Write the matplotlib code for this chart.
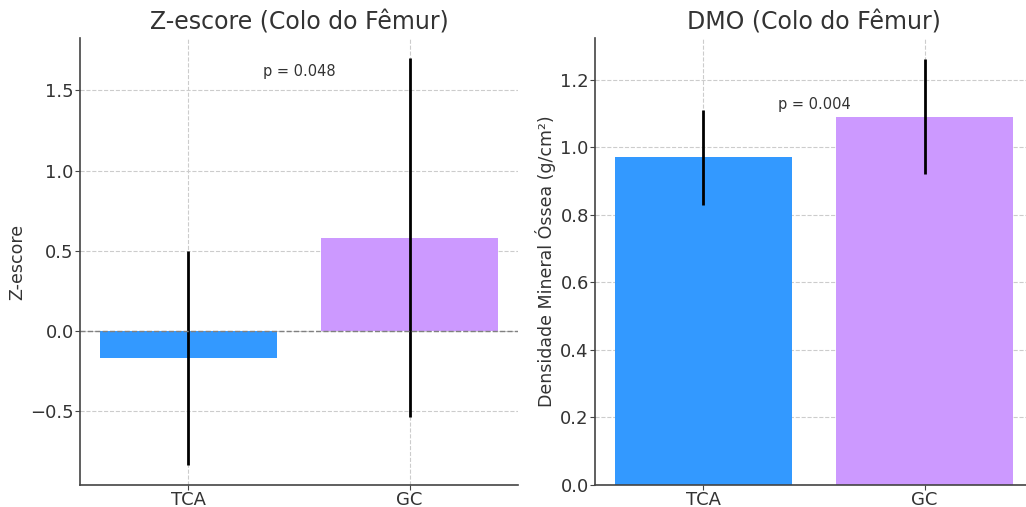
import numpy as np
import matplotlib
matplotlib.use("Agg")
import matplotlib.pyplot as plt

grupos = ["TCA", "GC"]
zscore = [-0.17, 0.58]
zscore_err = [0.665, 1.12]
dmo = [0.97, 1.09]
dmo_err = [0.14, 0.17]
p_z = "p = 0.048"
p_dmo = "p = 0.004"

cores = ["#3399ff", "#cc99ff"]

plt.rcParams["font.family"] = "DejaVu Sans"
plt.rcParams["text.color"] = "#333333"
plt.rcParams["axes.labelcolor"] = "#333333"
plt.rcParams["xtick.color"] = "#333333"
plt.rcParams["ytick.color"] = "#333333"

W, H = 1026, 507
fig = plt.figure(figsize=(W / 100, H / 100), dpi=100)


def eixo(left, top, right, bottom):
    return fig.add_axes([left / W, 1 - bottom / H, (right - left) / W, (bottom - top) / H])


ax1 = eixo(80, 38, 518, 485)
ax2 = eixo(595, 38, 1033, 485)


def estilo(ax):
    for s in ["top", "right"]:
        ax.spines[s].set_visible(False)
    for s in ["left", "bottom"]:
        ax.spines[s].set_color("#444444")
        ax.spines[s].set_linewidth(1.2)
    ax.grid(True, linestyle="--", color="#cccccc", linewidth=0.8)
    ax.set_axisbelow(True)
    ax.tick_params(labelsize=13, length=3.5, pad=1, color="#444444")
    ax.tick_params(axis="x", pad=0.5)


x = np.arange(len(grupos))

ax1.bar(x, zscore, yerr=zscore_err, color=cores, width=0.8,
        error_kw=dict(ecolor="black", elinewidth=2, capsize=0))
ax1.axhline(0, color="gray", linestyle="--", linewidth=1)
ax1.set_xticks(x)
ax1.set_xticklabels(grupos)
ax1.set_ylabel("Z-escore", fontsize=12.5, labelpad=3)
ax1.set_title("Z-escore (Colo do Fêmur)", fontsize=17, pad=6)
ax1.text(0.5, 1.62, p_z, ha="center", va="center", fontsize=10.5)
estilo(ax1)

ax2.bar(x, dmo, yerr=dmo_err, color=cores, width=0.8,
        error_kw=dict(ecolor="black", elinewidth=2, capsize=0))
ax2.set_xticks(x)
ax2.set_xticklabels(grupos)
ax2.set_ylabel("Densidade Mineral Óssea (g/cm²)", fontsize=12.5, labelpad=3)
ax2.set_title("DMO (Colo do Fêmur)", fontsize=17, pad=6)
ax2.text(0.5, 1.127, p_dmo, ha="center", va="center", fontsize=10.5)
estilo(ax2)

fig.savefig("out.png", dpi=100)
